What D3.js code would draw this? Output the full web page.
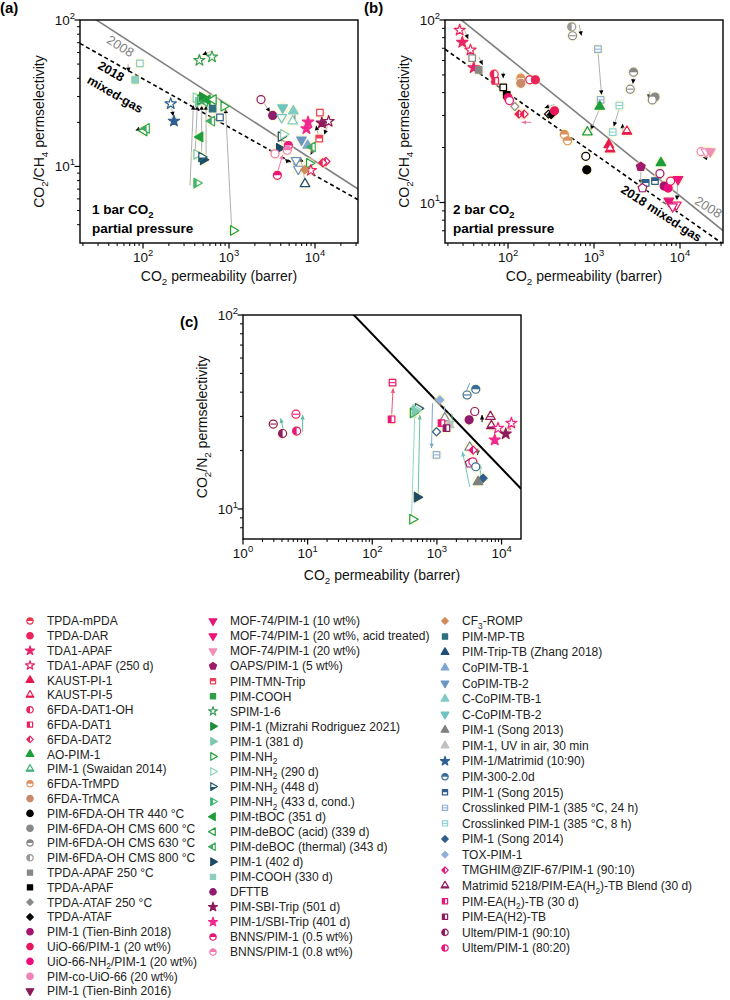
<!DOCTYPE html>
<html><head><meta charset="utf-8">
<script src="https://cdn.jsdelivr.net/npm/d3@7"></script>
<style>body{margin:0;background:#fff}</style>
</head><body>
<svg id="chart" width="730" height="1000"></svg>
<script>
// ---------------- DATA ----------------
const legendLabels = [
"TPDA-mPDA","TPDA-DAR","TDA1-APAF","TDA1-APAF (250 d)","KAUST-PI-1","KAUST-PI-5","6FDA-DAT1-OH","6FDA-DAT1","6FDA-DAT2","AO-PIM-1","PIM-1 (Swaidan 2014)","6FDA-TrMPD","6FDA-TrMCA","PIM-6FDA-OH TR 440 °C","PIM-6FDA-OH CMS 600 °C","PIM-6FDA-OH CMS 630 °C","PIM-6FDA-OH CMS 800 °C","TPDA-APAF 250 °C","TPDA-APAF","TPDA-ATAF 250 °C","TPDA-ATAF","PIM-1 (Tien-Binh 2018)","UiO-66/PIM-1 (20 wt%)","UiO-66-NH_{2}/PIM-1 (20 wt%)","PIM-co-UiO-66 (20 wt%)","PIM-1 (Tien-Binh 2016)",
"MOF-74/PIM-1 (10 wt%)","MOF-74/PIM-1 (20 wt%, acid treated)","MOF-74/PIM-1 (20 wt%)","OAPS/PIM-1 (5 wt%)","PIM-TMN-Trip","PIM-COOH","SPIM-1-6","PIM-1 (Mizrahi Rodriguez 2021)","PIM-1 (381 d)","PIM-NH_{2}","PIM-NH_{2} (290 d)","PIM-NH_{2} (448 d)","PIM-NH_{2} (433 d, cond.)","PIM-tBOC (351 d)","PIM-deBOC (acid) (339 d)","PIM-deBOC (thermal) (343 d)","PIM-1 (402 d)","PIM-COOH (330 d)","DFTTB","PIM-SBI-Trip (501 d)","PIM-1/SBI-Trip (401 d)","BNNS/PIM-1 (0.5 wt%)","BNNS/PIM-1 (0.8 wt%)",
"CF_{3}-ROMP","PIM-MP-TB","PIM-Trip-TB (Zhang 2018)","CoPIM-TB-1","CoPIM-TB-2","C-CoPIM-TB-1","C-CoPIM-TB-2","PIM-1 (Song 2013)","PIM-1, UV in air, 30 min","PIM-1/Matrimid (10:90)","PIM-300-2.0d","PIM-1 (Song 2015)","Crosslinked PIM-1 (385 °C, 24 h)","Crosslinked PIM-1 (385 °C, 8 h)","PIM-1 (Song 2014)","TOX-PIM-1","TMGHIM@ZIF-67/PIM-1 (90:10)","Matrimid 5218/PIM-EA(H_{2})-TB Blend (30 d)","PIM-EA(H_{2})-TB (30 d)","PIM-EA(H2)-TB","Ultem/PIM-1 (90:10)","Ultem/PIM-1 (80:20)"];
const legendColumnSizes = [26, 23, 22];
const legendShapes = [
"circle","circle","star","star","tri","tri","circle","square","diamond","tri","tri","circle","circle","circle","circle","circle","circle","square","square","diamond","diamond","circle","circle","circle","circle","triD",
"triD","triD","triD","penta","square","square","star","triR","triR","triR","triR","triR","triR","triL","triL","triL","triR","square","circle","star","star","circle","circle",
"diamond","square","tri","tri","triD","tri","triD","tri","tri","star","circle","square","square","square","diamond","diamond","diamond","tri","square","square","circle","circle"];
const legendFills = [
"t","f","f","o","f","b","l","l","l","f","b","t","f","f","f","t","l","f","f","f","f","f","f","f","f","f",
"f","f","f","f","t","f","o","f","f","o","o","b","l","f","o","l","f","f","f","f","f","t","t",
"f","f","f","f","f","f","f","f","f","f","t","t","m","m","f","f","l","b","l","l","l","l"];
const legendColors = [
"#e8384f","#e8245a","#e8246a","#e8246a","#e8194f","#e8194f","#e8245a","#e8245a","#e8245a","#1e9e3a","#3daf7a","#d9935f","#c98a6b","#000000","#888888","#888888","#999999","#888888","#000000","#888888","#000000","#a4136e","#e8175d","#ec0c7c","#f080b8","#8b1a5a",
"#e4177a","#f0147a","#f090b8","#9e1a6e","#ee3e5e","#2e9e4a","#3a9e5a","#1e8e3a","#7cc8b0","#1e9e3a","#8fd0b8","#1f5a6b","#3cb371","#1e9e3a","#1e9e3a","#3daa60","#1f4a63","#8ccfc0","#8e1b6e","#8e1b5e","#f02890","#e8177a","#f07ab0",
"#d08a5a","#2f7080","#1f4e79","#7ea6d0","#6a95c2","#80ccc4","#6ec3be","#7f7f7f","#c0c0c0","#2f5f95","#3a6e9a","#2f5f8f","#90b0d4","#8fd4d4","#2f5f8f","#8fafd8","#e8177a","#8e1b5e","#e8177a","#8e1b5e","#8e1b5e","#e8177a"];

// panel (a): [CO2 permeability, CO2/CH4 selectivity, legend index, fill override]
const pointsA = [
[452,53,32,"o"],[634,56,32,"o"],[92,50.5,43,"o"],[81,39,43,null],[210,26.8,58,"o"],[229,20.4,58,null],
[103,17.5,40,null],[110,18.2,41,null],
[413,29.5,36,null],[440,27.5,34,null],[469,28.6,35,"o"],[490,29.8,33,null],[520,27.8,41,null],[560,28.5,39,null],[658,28.6,40,null],[645,24.8,50,null],[785,21.6,60,"o"],[871,25.8,35,"o"],[630,20.4,41,null],
[460,15.9,39,null],[421,12.1,34,"o"],[502,11.1,42,null],[480,11.6,37,null],[421,7.7,38,null],[1122,3.65,35,"o"],
[2355,28.6,44,"o"],[3220,22.3,44,null],[4205,25.2,55,null],[4090,21.6,55,"o"],[5600,23.9,54,null],[5500,20.4,54,"o"],
[8300,20.1,46,null],[7950,18.1,46,null],[11400,23.3,30,"o"],[11200,15.5,30,null],[12000,19.8,45,null],[14400,20.3,45,"o"],
[4030,16,42,"o"],[3845,13.3,42,null],[4300,16.6,36,null],[4900,13.9,47,null],[4750,12.9,48,null],[3425,12.2,48,"o"],[3650,8.7,47,null],
[6970,15.2,53,null],[8220,13.9,52,null],[9340,13.6,41,null],[6010,11,53,"o"],[6400,9.6,53,"o"],[8590,10.5,35,"o"],[8970,9.4,3,null],[13400,10.8,65,null],[12300,10.6,8,null],[7650,7.6,51,"o"],[7600,9.5,49,null]];
// arrows: [P from, S from, P to, S to, colour (optional)]
const arrowsA = [
[352,7.4,385,26.2],[403,12.2,428,26.2],[481,11.9,481,26.2],[541,11.9,541,26.2],[1074,3.74,912,24.8],
[620,61,490,58],[67,50,68,44],[215,25,225,22],[115,19.2,82,17.6],[2500,27.5,3000,23.5],
[3500,12,4300,13.8,"#f07ab0"],[3650,9,4200,12,"#f07ab0"],[7650,7.9,6800,11.5],[11000,15.8,10300,19],[14000,19,12800,16.5],
[5000,10.5,4500,11.3],[5600,21,5900,22.5],[9600,13.2,8900,12],[4100,14.5,3900,16],[6000,10.3,7700,9.2,"#d08a5a"]];

// panel (b)
const pointsB = [
[27.4,88,3,null],[29.4,75.5,2,null],[36.6,68.5,3,null],[39.9,54.8,2,null],[38.3,61.8,17,"o"],[45.6,53.3,17,null],
[69,50.5,6,null],[71,46.4,7,null],[88,42.7,18,"o"],[96.6,38.9,18,null],[100,37.6,22,null],[104,36.2,23,"o"],[120,33.6,19,"o"],[134,30.5,8,null],[154,30.5,8,null],
[141,48,11,null],[141,45,12,null],[179,47,22,"o"],[208,47,1,null],[296,30.5,20,"o"],[318,30.3,20,null],[347,31.8,22,null],
[452,23.6,11,null],[493,21.8,11,null],[802,17.9,13,"o"],[824,15.1,13,null],[838,24.3,9,"o"],
[550,91.8,16,null],[563,82,15,"m"],[1110,69.2,61,null],[1194,36.5,61,null],[1165,33.6,9,null],
[2880,51.8,15,null],[2640,41.8,15,"m"],[5120,37.8,14,null],[4760,36.5,14,"o"],[1972,34,62,null],[1652,24.3,62,null],
[2415,24.5,5,null],[1486,20.7,4,null],[1540,19.6,5,null],
[17600,19,24,"o"],[20000,19,28,"o"],[22500,19,28,null],
[3500,15.7,29,null],[6000,16.5,9,null],[3990,12.8,60,null],[5115,13.1,60,null],[3660,12,29,"o"],[5840,14.4,21,"o"],[6540,12.3,21,null],[7280,12,23,null],[7770,13.1,22,"o"],
[7410,10.2,26,null],[9060,9.7,27,"o"],[9480,13.4,27,null],[8200,9.5,26,"o"]];
const arrowsB = [
[30.6,90,34.4,78.7],[45.6,63,50.7,56.7],[88,52,88,48],[673,94,714,82],
[1112,67,1224,38.9],[1194,33.6,916,25],[1972,32.9,1698,26.1],[2880,48,2830,44.7],[4480,40.6,4290,36.9],[2150,24,2150,27],
[21000,17.5,18400,17.7],[3500,15.2,3500,12.6],[9400,13,9200,10.3],[6000,14,5500,13.2],
[347,34.4,266,33],[187,27.5,144,27.5,"#e87aa0"],[500,21,430,22]];

// panel (c): [CO2 permeability, CO2/N2 selectivity, legend index, fill override]
const pointsC = [
[2.94,27.4,69,"m"],[4.1,24.5,69,null],[6.6,30.8,70,"m"],[6.76,25.2,70,null],
[206,44.8,67,"m"],[199,29,67,null],
[513,33,37,null],[470,32.5,36,null],[429,31.3,35,null],[455,32,34,null],[494,11.5,42,null],[420,8.85,35,"o"],
[1109,36.5,64,null],[986,25,63,"o"],[986,19,61,null],[1324,29.4,56,"o"],[1550,27.1,57,null],[1178,27.7,67,null],[1406,26.1,68,null],
[2930,38.7,59,"m"],[3990,41.4,59,null],[3850,31.8,44,"o"],[3150,28.8,44,null],
[6730,29.9,66,"m"],[6970,26.8,66,null],[8830,26.1,46,"o"],[14200,27.7,46,"o"],[11600,24.4,45,null],[7850,22.7,46,null],
[3220,20.8,56,"o"],[3630,20.1,65,null],[3220,17.2,29,"o"],[3600,17.5,47,"o"],[3990,16.5,59,"o"],[5180,14.4,63,null],[4330,13.8,56,null]];
const arrowsC = [
[4.2,25.7,3.83,29.3,"#5bb8a8"],[8.37,25,8.37,30.5,"#5bb8a8"],[199,29.9,210,41.9,"#e8577a"],
[405,9.1,455,31.1,"#8fd8c8"],[513,11.4,545,30.5,"#6fbf9f"],[855,35.1,826,20.6,"#7ea6d0"],
[1300,34,1400,26,"#9fb8d8"],[1700,31,1750,27,"#5bb8a8"],[3220,44.5,2540,37.2,"#5b9ec8"],[3100,27,3500,30.5,"#e8577a"],
[5000,28,5000,30.5,"#000000"],[3220,13,2490,19.7,"#6fc8c0"],[4300,20.5,4250,19,"#000000"],[4800,14,4600,17,"#5bb8a8"],[12000,24,14000,27,"#e8577a"]];

// upper bounds: P = k * S^n
const bound2008CH4 = [5369140, -2.636];
const bound2018CH4mixed = [6.95e6, -3.03];
const bound2008N2 = [30967000, -2.888];

// tick exponents
const xTickExpAB = [2,3,4];
const yTickExpA = [1,2];
const yTickExpB = [1,2];
const xTickExpC = [0,1,2,3,4];
const yTickExpC = [1,2];

// ---------------- DRAWING ----------------
const FONT = "'Liberation Sans', Arial, Helvetica, sans-serif";
const svg = d3.select("#chart").style("font-family", FONT);
svg.append("rect").attr("width",730).attr("height",1000).attr("fill","#fff");
const defs = svg.append("defs");
defs.append("clipPath").attr("id","clipl").append("rect").attr("x",-20).attr("y",-20).attr("width",20).attr("height",40);
defs.append("clipPath").attr("id","clipt").append("rect").attr("x",-20).attr("y",-20).attr("width",40).attr("height",20);
defs.append("clipPath").attr("id","clipb").append("rect").attr("x",-20).attr("y",0.5).attr("width",40).attr("height",20);

const symbolPenta = {draw(ctx,size){const r=Math.sqrt(size/2.38);for(let i=0;i<5;i++){const a=-Math.PI/2+i*2*Math.PI/5;const x=r*Math.cos(a),y=r*Math.sin(a);i?ctx.lineTo(x,y):ctx.moveTo(x,y);}ctx.closePath();}};
const sizeFactor = {circle:1, square:0.85, diamond:0.65, star:0.78, tri:0.8, triD:0.8, triR:0.8, triL:0.8, penta:1};
function shapeDef(s){
  switch(s){
    case "circle": return [d3.symbolCircle,0];
    case "square": return [d3.symbolSquare,0];
    case "diamond": return [d3.symbolSquare,45];
    case "star": return [d3.symbolStar,0];
    case "tri": return [d3.symbolTriangle,0];
    case "triD": return [d3.symbolTriangle,180];
    case "triR": return [d3.symbolTriangle,90];
    case "triL": return [d3.symbolTriangle,-90];
    case "penta": return [symbolPenta,0];
  }
}
function drawSym(g,key,mode,size){
  const col = legendColors[key];
  const m = mode || legendFills[key];
  const sh = legendShapes[key];
  const [type,rot] = shapeDef(sh);
  const sz = size*sizeFactor[sh];
  const d = d3.symbol().type(type).size(sz)();
  const tr = `rotate(${rot})`;
  g.append("path").attr("d",d).attr("transform",tr).attr("fill", m==="f"?col:"#fff");
  if(m==="l"||m==="t"||m==="b"){
    g.append("g").attr("clip-path",`url(#clip${m})`).append("path").attr("d",d).attr("transform",tr).attr("fill",col);
  }
  if(m==="m"){
    const h = Math.sqrt(sz)/2*0.85;
    g.append("line").attr("x1",-h).attr("x2",h).attr("y1",0).attr("y2",0).attr("stroke",col).attr("stroke-width",1.1);
  }
  g.append("path").attr("d",d).attr("transform",tr).attr("fill","none").attr("stroke",col).attr("stroke-width",1.2).attr("stroke-linejoin","round");
}

// rich text with _{sub} and ^{sup}
function richText(sel, str, fs){
  const parts = str.split(/(_\{[^}]*\}|\^\{[^}]*\})/).filter(p=>p.length);
  let shift = 0;
  parts.forEach(p=>{
    if(p.startsWith("_{")){
      sel.append("tspan").attr("dy",fs*0.3-shift).attr("font-size",fs*0.7).text(p.slice(2,-1)); shift=fs*0.3;
    } else if(p.startsWith("^{")){
      sel.append("tspan").attr("dy",-fs*0.45-shift).attr("font-size",fs*0.7).text(p.slice(2,-1)); shift=-fs*0.45;
    } else {
      sel.append("tspan").attr("dy",-shift).text(p); shift=0;
    }
  });
}

function arrowHead(g,x1,y1,x2,y2,col){
  const a = Math.atan2(y2-y1,x2-x1), L=4.5, W=2.2;
  const p = [[x2,y2],[x2-L*Math.cos(a)+W*Math.sin(a), y2-L*Math.sin(a)-W*Math.cos(a)],[x2-L*Math.cos(a)-W*Math.sin(a), y2-L*Math.sin(a)+W*Math.cos(a)]];
  g.append("path").attr("d","M"+p.join("L")+"Z").attr("fill",col);
}

function panel(cfg){
  const {id,x0,x1,y0,y1,xDom,yDom,xExp,yExp,points,arrows,bounds,yTitle,label,labelPos,xTitleY} = cfg;
  const x = d3.scaleLog().domain(xDom).range([x0,x1]);
  const y = d3.scaleLog().domain(yDom).range([y1,y0]);
  const g = svg.append("g");
  defs.append("clipPath").attr("id","pc"+id).append("rect").attr("x",x0).attr("y",y0).attr("width",x1-x0).attr("height",y1-y0);
  const minorX=[],minorY=[];
  for(let e=-1;e<6;e++) for(let k=2;k<10;k++){const v=k*Math.pow(10,e); if(v>xDom[0]&&v<xDom[1]) minorX.push(v); if(v>yDom[0]&&v<yDom[1]) minorY.push(v);}
  minorX.forEach(v=>g.append("line").attr("x1",x(v)).attr("x2",x(v)).attr("y1",y1).attr("y2",y1+3).attr("stroke","#000").attr("stroke-width",1));
  minorY.forEach(v=>g.append("line").attr("y1",y(v)).attr("y2",y(v)).attr("x1",x0).attr("x2",x0-3).attr("stroke","#000").attr("stroke-width",1));
  xExp.forEach(e=>{
    const v=Math.pow(10,e);
    g.append("line").attr("x1",x(v)).attr("x2",x(v)).attr("y1",y1).attr("y2",y1+5.5).attr("stroke","#000").attr("stroke-width",1.2);
    const t=g.append("text").attr("x",x(v)).attr("y",y1+19).attr("text-anchor","middle").attr("font-size",13.5).attr("fill","#111");
    richText(t,"10^{"+e+"}",13.5);
  });
  yExp.forEach(e=>{
    const v=Math.pow(10,e);
    g.append("line").attr("y1",y(v)).attr("y2",y(v)).attr("x1",x0).attr("x2",x0-5.5).attr("stroke","#000").attr("stroke-width",1.2);
    const t=g.append("text").attr("x",x0-5).attr("y",y(v)+5).attr("text-anchor","end").attr("font-size",13.5).attr("fill","#111");
    richText(t,"10^{"+e+"}",13.5);
  });
  const inner = g.append("g").attr("clip-path",`url(#pc${id})`);
  bounds.forEach(b=>{
    const [k,n] = b.params;
    const sAt = P => Math.pow(P/k,1/n);
    inner.append("line").attr("x1",x(xDom[0])).attr("y1",y(sAt(xDom[0]))).attr("x2",x(xDom[1])).attr("y2",y(sAt(xDom[1])))
      .attr("stroke",b.color).attr("stroke-width",b.w).attr("stroke-dasharray",b.dash||null);
  });
  arrows.forEach(a=>{
    const col = a[4]||"#b0b0b0";
    const head = a[4]||"#000";
    const X1=x(a[0]),Y1=y(a[1]),X2=x(a[2]),Y2=y(a[3]);
    inner.append("line").attr("x1",X1).attr("y1",Y1).attr("x2",X2).attr("y2",Y2).attr("stroke",col).attr("stroke-width",1);
    arrowHead(inner,X1,Y1,X2,Y2,head);
  });
  points.forEach(p=>inner.append("circle").attr("cx",x(p[0])).attr("cy",y(p[1])).attr("r",6).attr("fill","#fbf1bd").attr("opacity",0.45));
  points.forEach(p=>{
    const sg = inner.append("g").attr("transform",`translate(${x(p[0])},${y(p[1])})`);
    drawSym(sg,p[2],p[3],50);
  });
  g.append("rect").attr("x",x0).attr("y",y0).attr("width",x1-x0).attr("height",y1-y0).attr("fill","none").attr("stroke","#000").attr("stroke-width",1.4);
  const xt=g.append("text").attr("x",(x0+x1)/2).attr("y",xTitleY).attr("text-anchor","middle").attr("font-size",14).attr("fill","#111");
  richText(xt,"CO_{2} permeability (barrer)",14);
  const yt=g.append("text").attr("transform",`translate(${x0-36},${(y0+y1)/2}) rotate(-90)`).attr("text-anchor","middle").attr("font-size",14).attr("fill","#111");
  richText(yt,yTitle,14);
  svg.append("text").attr("x",labelPos[0]).attr("y",labelPos[1]).attr("font-size",15).attr("font-weight","bold").text(label);
  return {x,y,g};
}

panel({id:"a",x0:80,x1:358,y0:20,y1:243,xDom:[18.5,31623],yDom:[3,100],xExp:xTickExpAB,yExp:yTickExpA,points:pointsA,arrows:arrowsA,
  bounds:[{params:bound2008CH4,color:"#808080",w:1.6},{params:bound2018CH4mixed,color:"#000",w:1.6,dash:"4,3"}],
  yTitle:"CO_{2}/CH_{4} permselectivity",label:"(a)",labelPos:[0,13],xTitleY:281});
panel({id:"b",x0:445,x1:723,y0:20,y1:243,xDom:[18.5,31623],yDom:[6,100],xExp:xTickExpAB,yExp:yTickExpB,points:pointsB,arrows:arrowsB,
  bounds:[{params:bound2008CH4,color:"#808080",w:1.6},{params:bound2018CH4mixed,color:"#000",w:1.6,dash:"4,3"}],
  yTitle:"CO_{2}/CH_{4} permselectivity",label:"(b)",labelPos:[364,13],xTitleY:281});
panel({id:"c",x0:243,x1:521,y0:315,y1:539,xDom:[1,20000],yDom:[7,100],xExp:xTickExpC,yExp:yTickExpC,points:pointsC,arrows:arrowsC,
  bounds:[{params:bound2008N2,color:"#000",w:2}],
  yTitle:"CO_{2}/N_{2} permselectivity",label:"(c)",labelPos:[180,327],xTitleY:580});

function ann(x,y,rot,txt,opts){
  const t=svg.append("text").attr("transform",`translate(${x},${y}) rotate(${rot})`).attr("text-anchor",opts.anchor||"middle")
    .attr("font-size",opts.fs).attr("font-weight",opts.bold?"bold":"normal").attr("fill",opts.color||"#000");
  richText(t,txt,opts.fs);
}
ann(118,50,32,"2008",{fs:13,color:"#808080"});
ann(109,75,30,"2018",{fs:12.5,bold:true});
ann(113,98,30,"mixed-gas",{fs:12.5,bold:true});
ann(92,214,0,"1 bar CO_{2}",{fs:13.5,bold:true,anchor:"start"});
ann(92,233,0,"partial  pressure",{fs:13.5,bold:true,anchor:"start"});
ann(706,211,32,"2008",{fs:13,color:"#808080"});
ann(659,217,33,"2018 mixed-gas",{fs:12.5,bold:true});
ann(453,214,0,"2 bar CO_{2}",{fs:13.5,bold:true,anchor:"start"});
ann(453,233,0,"partial  pressure",{fs:13.5,bold:true,anchor:"start"});

const colX = [30,213,445];
const colY0 = [621,621,621];
const colStep = [14.8,15.05,15.57];
let idx = 0;
legendColumnSizes.forEach((n,c)=>{
  for(let i=0;i<n;i++,idx++){
    const yy = colY0[c]+i*colStep[c];
    const sg = svg.append("g").attr("transform",`translate(${colX[c]},${yy})`);
    drawSym(sg,idx,null,32);
    const t = svg.append("text").attr("x",colX[c]+17).attr("y",yy+4.3).attr("font-size",12).attr("fill","#222");
    richText(t,legendLabels[idx],12);
  }
});
</script>
</body></html>
